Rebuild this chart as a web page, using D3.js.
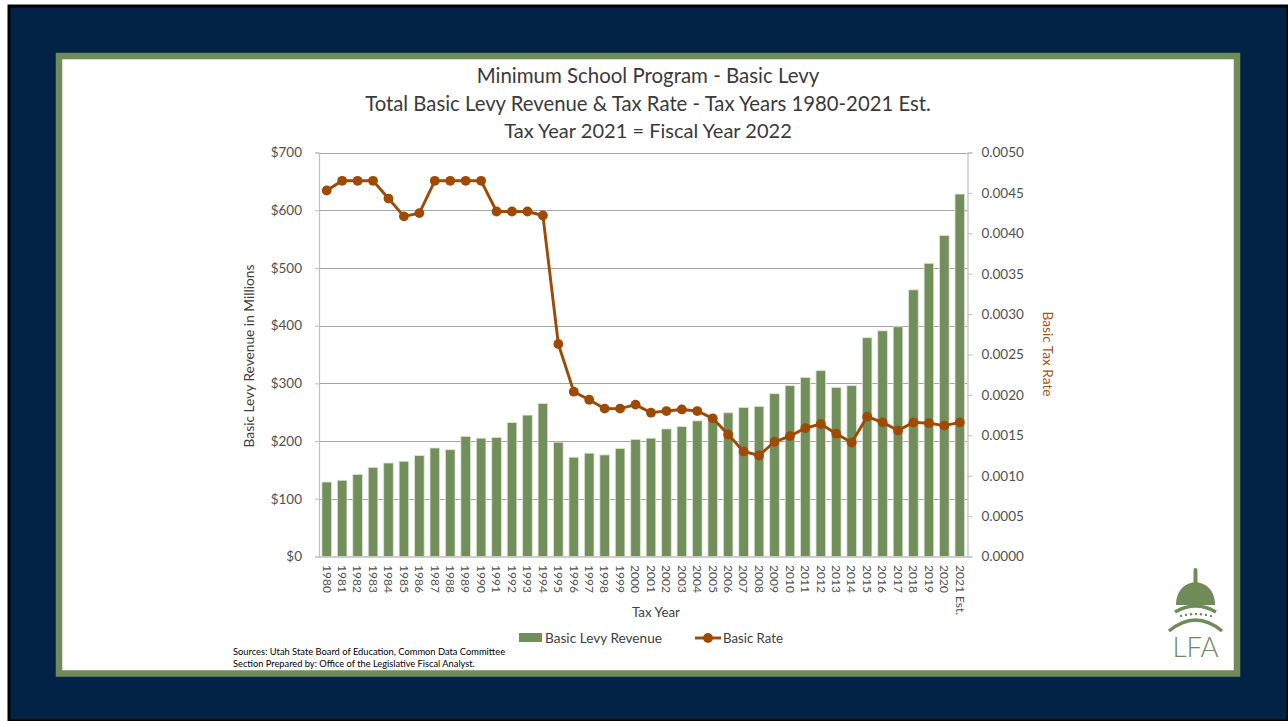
<!DOCTYPE html>
<html>
<head>
<meta charset="utf-8">
<script src="https://cdn.jsdelivr.net/npm/d3@7"></script>
<style>
html,body{margin:0;padding:0;background:#ffffff;}
svg{display:block;}
text{font-family:Lato,"Open Sans","Liberation Sans",sans-serif;}
</style>
</head>
<body>
<svg id="chart" width="1288" height="721"></svg>
<script>
// ---------- data ----------
const years = ["1980","1981","1982","1983","1984","1985","1986","1987","1988","1989",
  "1990","1991","1992","1993","1994","1995","1996","1997","1998","1999",
  "2000","2001","2002","2003","2004","2005","2006","2007","2008","2009",
  "2010","2011","2012","2013","2014","2015","2016","2017","2018","2019",
  "2020","2021 Est."];
const revenue = [129,132,142,154,162,165,175,188,185,208,
  205,206,232,245,265,198,172,179,176,187,
  203,205,221,225,235,239,249,258,260,282,
  296,310,322,293,296,379,391,398,462,508,
  556,628];
const basicRate = [0.00453,0.00465,0.00465,0.00465,0.00443,0.00421,0.00425,0.00465,0.00465,0.00465,
  0.00465,0.00427,0.00427,0.00427,0.00422,0.00263,0.00204,0.00194,0.00183,0.00183,
  0.00188,0.00178,0.00180,0.00182,0.00180,0.00171,0.00151,0.00130,0.00125,0.00142,
  0.00149,0.00159,0.00164,0.00152,0.00141,0.00173,0.00166,0.00156,0.00166,0.00165,
  0.00162,0.00166];
const leftTicks = [0,100,200,300,400,500,600,700];
const rightTicks = [0,0.0005,0.001,0.0015,0.002,0.0025,0.003,0.0035,0.004,0.0045,0.005];
const titleLines = ["Minimum School Program - Basic Levy",
  "Total Basic Levy Revenue & Tax Rate - Tax Years 1980-2021 Est.",
  "Tax Year 2021 = Fiscal Year 2022"];
const sourceLines = ["Sources: Utah State Board of Education, Common Data Committee",
  "Section Prepared by: Office of the Legislative Fiscal Analyst."];

// ---------- styles ----------
const NAVY = "#022345", FRAME = "#6f8b58", BAR = "#718e5b", LINE = "#9e4a05",
      TXT = "#404040", TICK = "#505050", GRID = "#a6a6a6", AXIS = "#bfbfbf";

const svg = d3.select("#chart");

function fit(sel, target){
  const n = sel.node();
  const fs = parseFloat(sel.attr("font-size"));
  const w = n.getComputedTextLength();
  if (w > 0) sel.attr("font-size", (fs * target / w).toFixed(2));
  return sel;
}

// background slide
svg.append("rect").attr("x",9).attr("y",6).attr("width",1279).attr("height",715)
  .attr("fill",NAVY).attr("stroke","#000").attr("stroke-width",3);
svg.append("rect").attr("x",59).attr("y",56).attr("width",1178).attr("height",617.5)
  .attr("fill","#fff").attr("stroke",FRAME).attr("stroke-width",6.5);

// ---------- scales ----------
const pLeft = 319, pRight = 967.5, pTop = 152.5, pBottom = 556.5;
const x = d3.scaleBand().domain(years).range([pLeft, pRight]).paddingInner(0.38).paddingOuter(0.19);
const yL = d3.scaleLinear().domain([0,700]).range([pBottom, pTop]);
const yR = d3.scaleLinear().domain([0,0.005]).range([pBottom, pTop]);

// gridlines
svg.append("g").selectAll("line").data(leftTicks.filter(d=>d>0)).join("line")
  .attr("x1",pLeft).attr("x2",pRight)
  .attr("y1",d=>Math.round(yL(d))+0.5).attr("y2",d=>Math.round(yL(d))+0.5)
  .attr("stroke",GRID).attr("stroke-width",1);

// left axis
const gL = svg.append("g").attr("transform",`translate(${pLeft},0)`)
  .call(d3.axisLeft(yL).tickValues(leftTicks).tickFormat(d=>"$"+d).tickSize(4).tickPadding(13));
gL.select(".domain").attr("stroke",AXIS).attr("stroke-width",1.2);
gL.selectAll(".tick line").attr("stroke",AXIS);
gL.selectAll(".tick text").attr("fill",TICK).attr("font-size",13.5).attr("font-family","Lato, sans-serif");

// right axis
const gR = svg.append("g").attr("transform",`translate(${pRight},0)`)
  .call(d3.axisRight(yR).tickValues(rightTicks).tickFormat(d3.format(".4f")).tickSize(5).tickPadding(9));
gR.select(".domain").attr("stroke",AXIS).attr("stroke-width",1.2);
gR.selectAll(".tick line").attr("stroke",AXIS);
gR.selectAll(".tick text").attr("fill",TICK).attr("font-size",13.5).attr("font-family","Lato, sans-serif");

// bars
svg.append("g").selectAll("rect").data(years).join("rect")
  .attr("x",d=>x(d)).attr("width",x.bandwidth())
  .attr("y",(d,i)=>yL(revenue[i])).attr("height",(d,i)=>pBottom-yL(revenue[i]))
  .attr("fill",BAR).attr("stroke","#dbe4d3").attr("stroke-width",0.8);

// bottom axis
const gB = svg.append("g").attr("transform",`translate(0,${pBottom})`)
  .call(d3.axisBottom(x).tickSize(0).tickPadding(0));
gB.select(".domain").attr("stroke",AXIS).attr("stroke-width",1.5);
gB.selectAll(".tick text")
  .attr("transform","rotate(90)").attr("text-anchor","start")
  .attr("x",8.5).attr("y",0).attr("dy","0.35em")
  .attr("fill",TICK).attr("font-size",12).attr("font-family","Lato, sans-serif");

// line
const lineGen = d3.line().x((d,i)=>x(years[i])+x.bandwidth()/2).y(d=>yR(d));
svg.append("path").datum(basicRate).attr("d",lineGen)
  .attr("fill","none").attr("stroke",LINE).attr("stroke-width",2.9).attr("stroke-linejoin","round");
svg.append("g").selectAll("circle").data(basicRate).join("circle")
  .attr("cx",(d,i)=>x(years[i])+x.bandwidth()/2).attr("cy",d=>yR(d)).attr("r",4.9)
  .attr("fill",LINE);

// titles
const tw = [343, 566, 288];
titleLines.forEach((t,i)=>{
  const s = svg.append("text").attr("x",648).attr("y",83+i*27.7).attr("text-anchor","middle")
    .attr("fill","#3a3a3a").attr("font-size",19).text(t);
  fit(s, tw[i]);
});

// axis titles
const lt = svg.append("text").attr("transform","translate(254,356) rotate(-90)")
  .attr("text-anchor","middle").attr("fill",TXT).attr("font-size",12.5).text("Basic Levy Revenue in Millions");
fit(lt, 183);
const rt = svg.append("text").attr("transform","translate(1043,354) rotate(90)")
  .attr("text-anchor","middle").attr("fill","#a3550f").attr("font-size",12.5).text("Basic Tax Rate");
fit(rt, 85);
const xt = svg.append("text").attr("x",656).attr("y",617).attr("text-anchor","middle")
  .attr("fill",TXT).attr("font-size",13).text("Tax Year");
fit(xt, 48);

// legend
svg.append("rect").attr("x",519).attr("y",633).attr("width",23).attr("height",9).attr("fill",BAR);
const l1 = svg.append("text").attr("x",545).attr("y",643).attr("fill",TXT).attr("font-size",13).text("Basic Levy Revenue");
fit(l1, 117);
svg.append("line").attr("x1",695).attr("x2",721).attr("y1",638).attr("y2",638).attr("stroke",LINE).attr("stroke-width",2.9);
svg.append("circle").attr("cx",708).attr("cy",638).attr("r",4.9).attr("fill",LINE);
const l2 = svg.append("text").attr("x",723).attr("y",643).attr("fill",TXT).attr("font-size",13).text("Basic Rate");
fit(l2, 60);

// sources
sourceLines.forEach((t,i)=>{
  const s = svg.append("text").attr("x",233).attr("y",655+i*11.5).attr("fill","#000").attr("font-size",8.5).text(t);
  fit(s, i===0 ? 272 : 242);
});

// logo
const logo = svg.append("g").attr("fill",FRAME).attr("stroke",FRAME);
logo.append("rect").attr("x",1193.5).attr("y",571).attr("width",4).attr("height",12).attr("stroke","none");
logo.append("circle").attr("cx",1195.5).attr("cy",570).attr("r",2).attr("stroke","none");
logo.append("path").attr("d","M1176,605 C1176,590 1185,583 1195.5,582 C1206,583 1215,590 1215,605 Z").attr("stroke","none");
logo.append("path").attr("d","M1175,612 Q1195.5,600 1216,612").attr("fill","none").attr("stroke-width",3.5);
[1181,1186,1191,1196,1201,1206,1211].forEach(cx=>{
  logo.append("circle").attr("cx",cx).attr("cy",617 - 3*Math.cos((cx-1196)/15*1.2)).attr("r",1.2).attr("stroke","none");
});
logo.append("path").attr("d","M1169,631 Q1195.5,609 1222,631").attr("fill","none").attr("stroke-width",3.5);
const lfa = svg.append("text").attr("x",1195.5).attr("y",657).attr("text-anchor","middle")
  .attr("fill",FRAME).attr("font-size",32).attr("font-weight",300).text("LFA");
fit(lfa, 46);
</script>
</body>
</html>
